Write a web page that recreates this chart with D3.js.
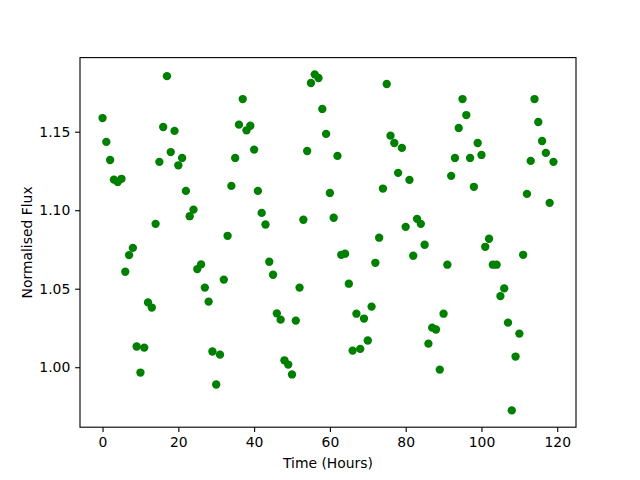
<!DOCTYPE html>
<html><head><meta charset="utf-8">
<script src="https://cdn.jsdelivr.net/npm/d3@7"></script>
<style>body{margin:0;background:#fff}svg{display:block}text{font-family:"DejaVu Sans",sans-serif;fill:#000}</style>
</head><body><svg id="c" width="640" height="480"></svg>
<script>
const hours = d3.range(0, 120);
const flux = [
1.1587,1.1435,1.132,1.1195,1.118,1.120,1.0608,1.0714,1.076,1.0132,
0.9966,1.0125,1.0413,1.038,1.0913,1.1308,1.153,1.1854,1.137,1.1505,
1.1286,1.1333,1.1123,1.0962,1.1004,1.0625,1.0655,1.0507,1.0418,1.010,
0.989,1.008,1.0558,1.0837,1.1155,1.1333,1.1545,1.1708,1.1509,1.1538,
1.1386,1.1123,1.0983,1.0909,1.0672,1.0589,1.0343,1.0303,1.0044,1.0017,
0.9954,1.0297,1.0507,1.0939,1.1377,1.181,1.1865,1.1842,1.1645,1.1486,
1.111,1.0952,1.1346,1.0716,1.0723,1.0532,1.0106,1.0341,1.0117,1.031,
1.017,1.0386,1.0665,1.0825,1.1138,1.1804,1.1475,1.1428,1.1238,1.1397,
1.0894,1.1193,1.071,1.0945,1.0913,1.078,1.015,1.0252,1.024,0.9985,
1.0341,1.0653,1.1219,1.1333,1.1524,1.1708,1.1606,1.1333,1.1149,1.1428,
1.1352,1.0767,1.0818,1.0653,1.0653,1.0453,1.0502,1.0284,0.9725,1.0068,
1.0214,1.0716,1.1104,1.1314,1.1708,1.1562,1.1441,1.1365,1.1047,1.1308
];
const xTicks = [0, 20, 40, 60, 80, 100, 120];
const yTicks = [1.00, 1.05, 1.10, 1.15];
const xLabel = "Time (Hours)";
const yLabel = "Normalised Flux";

const L = 80, R = 576, T = 57.6, B = 427.2;
const svg = d3.select("#c");
function pad(ext){const r = ext[1]-ext[0]; return [ext[0]-0.05*r, ext[1]+0.05*r];}
const x = d3.scaleLinear().domain(pad(d3.extent(hours))).range([L, R]);
const y = d3.scaleLinear().domain(pad(d3.extent(flux))).range([B, T]);

svg.append("g").selectAll("circle").data(hours).join("circle")
  .attr("cx", d => x(d)).attr("cy", (d,i) => y(flux[i])).attr("r", 4.17)
  .attr("fill", "#008000");

const fs = "13.9px";
const xa = svg.append("g").attr("transform", `translate(0,${B})`)
  .call(d3.axisBottom(x).tickValues(xTicks).tickSize(4.86).tickPadding(4.86).tickFormat(d3.format("d")));
const ya = svg.append("g").attr("transform", `translate(${L},0)`)
  .call(d3.axisLeft(y).tickValues(yTicks).tickSize(4.86).tickPadding(4.86).tickFormat(d3.format(".2f")));
[xa, ya].forEach(a => {
  a.select(".domain").remove();
  a.selectAll("line").attr("stroke", "#000").attr("stroke-width", 1.11);
  a.selectAll("text").attr("font-size", fs).attr("font-family", "DejaVu Sans");
});
xa.selectAll("text").attr("dy", "0.71em");

svg.append("rect").attr("x", L).attr("y", T).attr("width", R-L).attr("height", B-T)
  .attr("fill", "none").attr("stroke", "#000").attr("stroke-width", 1.11);

svg.append("text").attr("x", (L+R)/2).attr("y", 468).attr("text-anchor", "middle")
  .attr("font-size", fs).text(xLabel);
svg.append("text").attr("transform", `translate(32,${(T+B)/2}) rotate(-90)`)
  .attr("text-anchor", "middle").attr("font-size", fs).text(yLabel);
</script></body></html>
